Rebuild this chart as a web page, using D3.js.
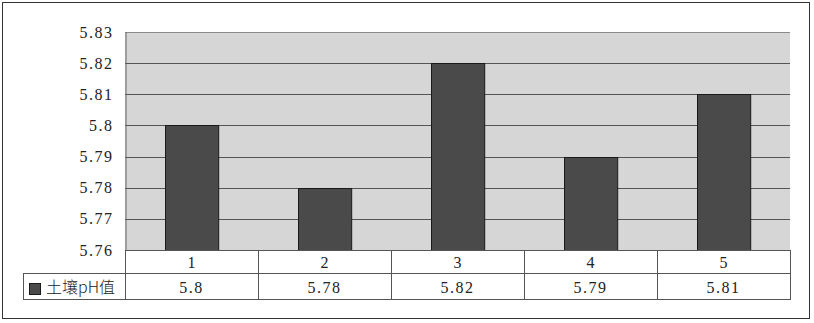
<!DOCTYPE html>
<html>
<head>
<meta charset="utf-8">
<script src="https://cdn.jsdelivr.net/npm/d3@7"></script>
<style>
  body { margin: 0; background: #fff; }
  svg text { font-family: "Liberation Serif", "Noto Sans CJK SC", serif; fill: #222; }
</style>
</head>
<body>
<div id="chart"></div>
<script>
// chart data
const categories = ["1", "2", "3", "4", "5"];
const phValues = [5.8, 5.78, 5.82, 5.79, 5.81];
const valueLabels = ["5.8", "5.78", "5.82", "5.79", "5.81"];
const yTicks = [5.76, 5.77, 5.78, 5.79, 5.8, 5.81, 5.82, 5.83];
const seriesName = "土壤pH值";

const width = 814, height = 323;
const plot = {left: 125, right: 790, top: 32, bottom: 250};
const rowH = [23, 26];
const tableLeft = 23;

const svg = d3.select("#chart").append("svg")
    .attr("width", width)
    .attr("height", height);

// outer frame
svg.append("rect")
    .attr("x", 2.5).attr("y", 2.5)
    .attr("width", 807).attr("height", 316)
    .attr("fill", "#fff")
    .attr("stroke", "#333")
    .attr("stroke-width", 1);

const x = d3.scaleBand()
    .domain(categories)
    .range([plot.left, plot.right])
    .paddingInner(0.6)
    .paddingOuter(0.3);

const xCell = d3.scaleBand()
    .domain(categories)
    .range([plot.left, plot.right]);

const y = d3.scaleLinear()
    .domain([5.76, 5.83])
    .range([plot.bottom, plot.top]);

// plot background
svg.append("rect")
    .attr("x", plot.left).attr("y", plot.top)
    .attr("width", plot.right - plot.left)
    .attr("height", plot.bottom - plot.top)
    .attr("fill", "#d6d6d6");

// gridlines
svg.append("g")
    .selectAll("line")
    .data(yTicks.slice(1))
    .join("line")
    .attr("x1", plot.left).attr("x2", plot.right)
    .attr("y1", d => Math.round(y(d)) + 0.5)
    .attr("y2", d => Math.round(y(d)) + 0.5)
    .attr("stroke", d => d === 5.83 ? "#8a8a8a" : "#555")
    .attr("stroke-width", 1);

// bars
svg.append("g")
    .selectAll("rect")
    .data(phValues)
    .join("rect")
    .attr("x", (d, i) => Math.round(x(categories[i])) + 0.5)
    .attr("y", d => Math.round(y(d)) + 0.5)
    .attr("width", x.bandwidth())
    .attr("height", d => Math.round(y(5.76)) - Math.round(y(d)))
    .attr("fill", "#4a4a4a")
    .attr("stroke", "#1a1a1a")
    .attr("stroke-width", 1);

// y axis
const yAxis = d3.axisLeft(y)
    .tickValues(yTicks)
    .tickSize(0)
    .tickPadding(12)
    .tickFormat(d => String(+d.toFixed(2)));

const gy = svg.append("g")
    .attr("transform", `translate(${plot.left + 0.5},0)`)
    .call(yAxis);
gy.select(".domain").attr("stroke", "#666");
gy.selectAll("text")
    .attr("font-size", 16)
    .attr("letter-spacing", 1.5)
    .attr("fill", "#222")
    .style("font-family", "'Liberation Serif', serif");

// data table
const t0 = plot.bottom, t1 = t0 + rowH[0], t2 = t1 + rowH[1];
const table = svg.append("g").attr("stroke", "#555").attr("stroke-width", 1);

table.append("rect")
    .attr("x", plot.left + 0.5).attr("y", t0 + 0.5)
    .attr("width", plot.right - plot.left).attr("height", t2 - t0)
    .attr("fill", "#fff");
table.append("rect")
    .attr("x", tableLeft + 0.5).attr("y", t1 + 0.5)
    .attr("width", plot.left - tableLeft).attr("height", t2 - t1)
    .attr("fill", "#fff");
table.append("line")
    .attr("x1", plot.left).attr("x2", plot.right)
    .attr("y1", t1 + 0.5).attr("y2", t1 + 0.5);
table.selectAll("line.col")
    .data(categories.slice(1))
    .join("line")
    .attr("class", "col")
    .attr("x1", d => Math.round(xCell(d)) + 0.5)
    .attr("x2", d => Math.round(xCell(d)) + 0.5)
    .attr("y1", t0).attr("y2", t2);

// category labels
svg.append("g")
    .selectAll("text")
    .data(categories)
    .join("text")
    .attr("x", d => xCell(d) + xCell.bandwidth() / 2)
    .attr("y", t0 + 18)
    .attr("text-anchor", "middle")
    .attr("font-size", 16)
    .text(d => d);

// value labels
svg.append("g")
    .selectAll("text")
    .data(valueLabels)
    .join("text")
    .attr("x", (d, i) => xCell(categories[i]) + xCell.bandwidth() / 2)
    .attr("y", t1 + 20)
    .attr("text-anchor", "middle")
    .attr("font-size", 16)
    .attr("letter-spacing", 1.5)
    .text(d => d);

// legend key
svg.append("rect")
    .attr("x", 29.5).attr("y", 283.5)
    .attr("width", 11).attr("height", 11)
    .attr("fill", "#4a4a4a")
    .attr("stroke", "#1a1a1a");
svg.append("text")
    .attr("x", 46)
    .attr("y", t1 + 20)
    .attr("font-size", 16)
    .style("font-family", "'Noto Sans CJK SC', sans-serif")
    .attr("font-weight", 300)
    .text(seriesName);
</script>
</body>
</html>
